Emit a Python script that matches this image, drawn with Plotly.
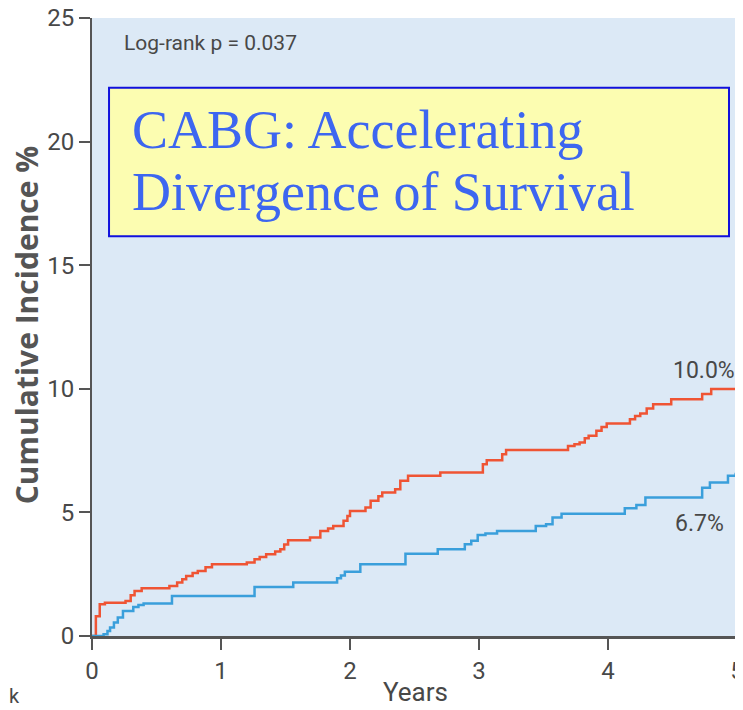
import plotly.graph_objects as go

# Red curve (step events): years, cumulative incidence %
red_t = [0, 0.03, 0.06, 0.10, 0.26, 0.30, 0.33, 0.385, 0.60, 0.66, 0.70, 0.73, 0.78, 0.82, 0.88, 0.93,
         1.20, 1.26, 1.30, 1.35, 1.42, 1.46, 1.49, 1.52, 1.69, 1.77, 1.83, 1.87, 1.95, 1.98, 2.00,
         2.12, 2.16, 2.22, 2.25, 2.35, 2.39, 2.45, 2.70, 3.03, 3.06, 3.18, 3.21, 3.69, 3.74, 3.78,
         3.82, 3.85, 3.91, 3.95, 3.99, 4.17, 4.21, 4.25, 4.30, 4.35, 4.49, 4.73, 4.80, 5.00]
red_v = [0, 0.80, 1.28, 1.35, 1.42, 1.65, 1.82, 1.93, 2.02, 2.16, 2.30, 2.43, 2.55, 2.63, 2.78, 2.90,
         2.97, 3.10, 3.20, 3.31, 3.42, 3.51, 3.70, 3.87, 3.98, 4.25, 4.35, 4.45, 4.66, 4.85, 5.06,
         5.20, 5.47, 5.65, 5.80, 5.94, 6.28, 6.48, 6.61, 6.95, 7.11, 7.35, 7.52, 7.69, 7.76, 7.83,
         8.00, 8.10, 8.30, 8.45, 8.60, 8.77, 8.90, 9.00, 9.20, 9.38, 9.58, 9.79, 9.99, 10.00]

# Blue curve (step events)
blue_t = [0, 0.09, 0.12, 0.14, 0.17, 0.20, 0.24, 0.32, 0.36, 0.40, 0.62, 1.26, 1.56, 1.90, 1.93,
          1.96, 2.08, 2.43, 2.68, 2.89, 2.94, 2.99, 3.05, 3.14, 3.44, 3.52, 3.57, 3.64, 4.13,
          4.22, 4.29, 4.73, 4.79, 4.93, 4.99, 5.00]
blue_v = [0, 0.07, 0.20, 0.34, 0.55, 0.75, 1.01, 1.17, 1.25, 1.31, 1.62, 1.98, 2.16, 2.34, 2.45,
          2.60, 2.90, 3.33, 3.51, 3.71, 3.85, 4.09, 4.15, 4.25, 4.45, 4.52, 4.79, 4.95, 5.17,
          5.30, 5.60, 6.00, 6.21, 6.48, 6.55, 6.75]

x_ticks = [0, 1, 2, 3, 4, 5]
y_ticks = [0, 5, 10, 15, 20, 25]

end_labels = ["10.0%", "6.7%"]
title_lines = ["CABG: Accelerating", "Divergence of Survival"]

RED = "#EF5434"
BLUE = "#3A9FDB"
AXIS = "#555555"
TXT = "#484848"
TICKFONT = "Roboto, Lato, sans-serif"

fig = go.Figure()
fig.add_trace(go.Scatter(x=red_t, y=red_v, mode="lines", line=dict(color=RED, width=2.5, shape="hv"),
                         showlegend=False, hoverinfo="skip"))
fig.add_trace(go.Scatter(x=blue_t, y=blue_v, mode="lines", line=dict(color=BLUE, width=2.5, shape="hv"),
                         showlegend=False, hoverinfo="skip"))

# page body has an 8px margin, so the figure is sized to fit the 743x710 window
fig.update_layout(
    width=735, height=702,
    margin=dict(l=84, r=6, t=10, b=74),
    paper_bgcolor="white",
    plot_bgcolor="#DCE9F6",
    xaxis=dict(range=[0, 5], tickvals=x_ticks, showline=True, linecolor=AXIS, linewidth=3,
               ticks="outside", ticklen=11, tickwidth=2, tickcolor=AXIS, showgrid=False, zeroline=False,
               ticklabeloverflow="allow", automargin=False,
               tickfont=dict(family=TICKFONT, size=24, color=TXT)),
    yaxis=dict(range=[0, 25], tickvals=y_ticks, showline=True, linecolor=AXIS, linewidth=2,
               ticks="outside", ticklen=11, tickwidth=2, tickcolor=AXIS, showgrid=False, zeroline=False,
               ticklabeloverflow="allow", automargin=False,
               tickfont=dict(family=TICKFONT, size=24, color=TXT)),
)

annos = [
    dict(text="<b>Cumulative Incidence %</b>", x=-0.102, y=0.503, xref="paper", yref="paper", textangle=-90,
         showarrow=False, font=dict(family="Open Sans, sans-serif", size=30, color="#555555"),
         xanchor="center", yanchor="middle"),
    dict(text="Years", x=0.5008, y=-0.0906, xref="paper", yref="paper",
         showarrow=False, font=dict(family=TICKFONT, size=26, color=TXT),
         xanchor="center", yanchor="middle"),
    dict(text="k", x=-0.12, y=-0.097, xref="paper", yref="paper", showarrow=False,
         font=dict(family=TICKFONT, size=20, color=TXT), xanchor="center", yanchor="middle"),
    dict(text="Log-rank p = 0.037", x=0.0465, y=0.9595, xref="paper", yref="paper", showarrow=False,
         font=dict(family=TICKFONT, size=21, color=TXT), xanchor="left", yanchor="middle"),
    dict(text=end_labels[0], x=red_t[-1], y=red_v[-1] + 0.75, xref="x", yref="y", showarrow=False,
         font=dict(family=TICKFONT, size=23, color=TXT), xanchor="right", yanchor="middle"),
    dict(text=end_labels[1], x=4.71, y=blue_v[-1] - 2.2, xref="x", yref="y", showarrow=False,
         font=dict(family=TICKFONT, size=23, color=TXT), xanchor="center", yanchor="middle"),
    dict(text=title_lines[0], x=0.059, y=0.8188, xref="paper", yref="paper",
         showarrow=False, align="left", xanchor="left", yanchor="middle",
         font=dict(family="Liberation Serif, serif", size=54, color="#3D66F0")),
    dict(text=title_lines[1], x=0.059, y=0.7184, xref="paper", yref="paper",
         showarrow=False, align="left", xanchor="left", yanchor="middle",
         font=dict(family="Liberation Serif, serif", size=54, color="#3D66F0")),
]
fig.update_layout(annotations=annos)
fig.add_shape(type="rect", xref="paper", yref="paper", x0=0.0264, x1=0.9876, y0=0.647, y1=0.887,
              fillcolor="#FCFDB1", line=dict(color="#1111DD", width=2), layer="above")
fig.write_html("out.html")
